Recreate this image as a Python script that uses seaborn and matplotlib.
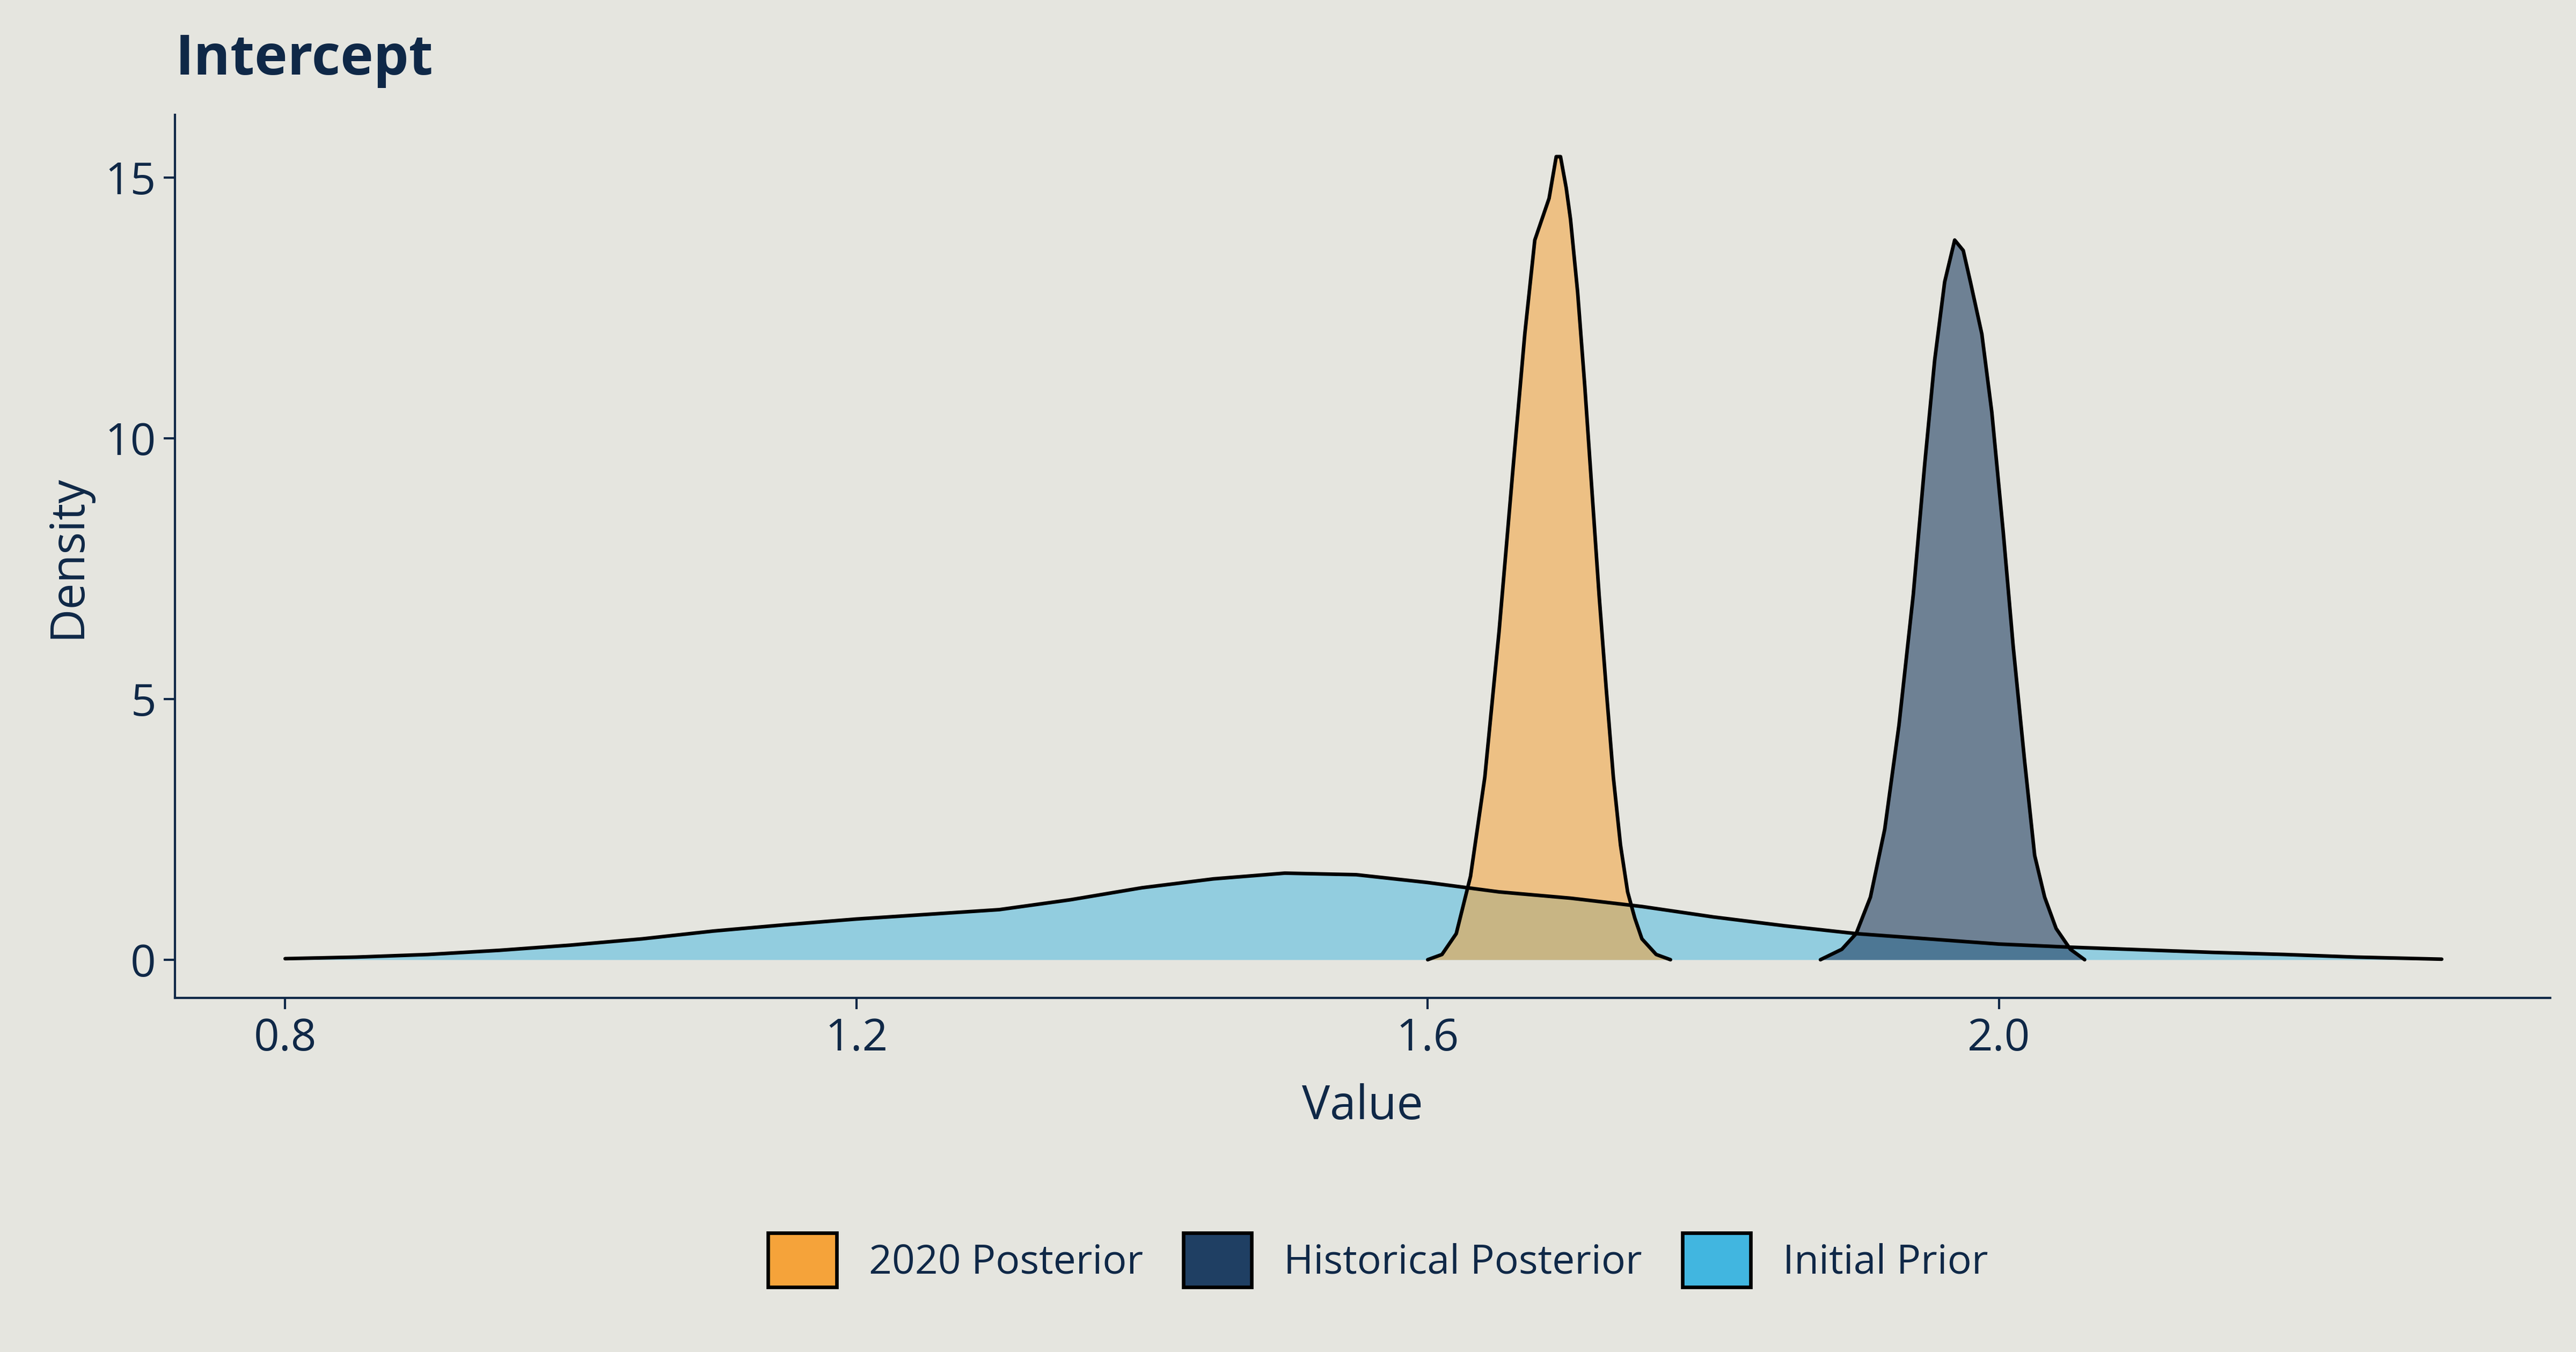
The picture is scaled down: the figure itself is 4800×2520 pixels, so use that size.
import numpy as np
import pandas as pd
import seaborn as sns
import matplotlib.pyplot as plt
from matplotlib.patches import Patch

prior_x = [0.80, 0.85, 0.90, 0.95, 1.00, 1.05, 1.10, 1.15, 1.20, 1.25, 1.30, 1.35, 1.40, 1.45, 1.50, 1.55, 1.60, 1.65, 1.70, 1.75, 1.80, 1.85, 1.90, 1.95, 2.00, 2.05, 2.10, 2.15, 2.20, 2.25, 2.31]
prior_y = [0.02, 0.05, 0.10, 0.18, 0.28, 0.40, 0.55, 0.67, 0.78, 0.87, 0.96, 1.15, 1.38, 1.55, 1.66, 1.63, 1.48, 1.30, 1.18, 1.02, 0.82, 0.65, 0.50, 0.40, 0.30, 0.24, 0.19, 0.14, 0.10, 0.05, 0.01]
post20_x = [1.600, 1.610, 1.620, 1.630, 1.640, 1.650, 1.660, 1.668, 1.675, 1.680, 1.685, 1.690, 1.693, 1.697, 1.700, 1.705, 1.710, 1.715, 1.720, 1.725, 1.730, 1.735, 1.740, 1.745, 1.750, 1.760, 1.770]
post20_y = [0.0, 0.1, 0.5, 1.6, 3.5, 6.3, 9.5, 12.0, 13.8, 14.2, 14.6, 15.4, 15.4, 14.8, 14.2, 12.8, 11.0, 9.0, 7.0, 5.2, 3.5, 2.2, 1.3, 0.8, 0.4, 0.1, 0.0]
hist_x = [1.875, 1.890, 1.900, 1.910, 1.920, 1.930, 1.940, 1.948, 1.955, 1.962, 1.969, 1.975, 1.980, 1.988, 1.995, 2.003, 2.010, 2.018, 2.025, 2.032, 2.040, 2.050, 2.060]
hist_y = [0.0, 0.2, 0.5, 1.2, 2.5, 4.5, 7.0, 9.5, 11.5, 13.0, 13.8, 13.6, 13.0, 12.0, 10.5, 8.2, 6.0, 3.8, 2.0, 1.2, 0.6, 0.2, 0.0]

labels = ["2020 Posterior", "Historical Posterior", "Initial Prior"]
colors = ["#F5A33A", "#1F3F63", "#41B6E0"]
bg = "#E5E5DF"
tc = "#0F2847"

sns.set_theme(style="white")
plt.rcParams['font.family'] = ['Open Sans', 'DejaVu Sans']

fig, ax = plt.subplots(figsize=(16, 8.4), dpi=300)
fig.patch.set_facecolor(bg)
ax.set_facecolor(bg)

series = [(prior_x, prior_y, colors[2], 0.5), (post20_x, post20_y, colors[0], 0.55), (hist_x, hist_y, colors[1], 0.6)]
for xs, ys, c, a in series:
    ax.fill_between(xs, ys, 0, color=c, alpha=a, lw=0)
    sns.lineplot(x=xs, y=ys, color="black", lw=1.6, ax=ax, sort=False)

ax.set_xlim(0.723, 2.386)
ax.set_ylim(-0.73, 16.2)
ax.set_xticks([0.8, 1.2, 1.6, 2.0])
ax.set_xticklabels(["0.8", "1.2", "1.6", "2.0"])
ax.set_yticks([0, 5, 10, 15])
for s in ["top", "right"]:
    ax.spines[s].set_visible(False)
for s in ["left", "bottom"]:
    ax.spines[s].set_color(tc)
    ax.spines[s].set_linewidth(1)
ax.tick_params(axis="both", colors=tc, labelsize=20, length=5, width=1, direction="out", bottom=True, left=True)
ax.set_xlabel("Value", color=tc, fontsize=21, labelpad=10)
ax.set_ylabel("Density", color=tc, fontsize=21, labelpad=6)
ax.set_title("Intercept", loc="left", fontsize=25, fontweight="bold", color=tc, pad=18)

handles = [Patch(facecolor=c, edgecolor="black", lw=1.6, label=l) for l, c in zip(labels, colors)]
fig.legend(handles=handles, loc="center", ncol=3, frameon=False, fontsize=18,
           labelcolor=tc, handlelength=1.7, handleheight=1.7, columnspacing=1.0, handletextpad=0.8,
           bbox_to_anchor=(0.535, 0.068))

fig.subplots_adjust(left=0.068, right=0.99, top=0.915, bottom=0.262)
fig.savefig("out.png", dpi=300, facecolor=bg)
